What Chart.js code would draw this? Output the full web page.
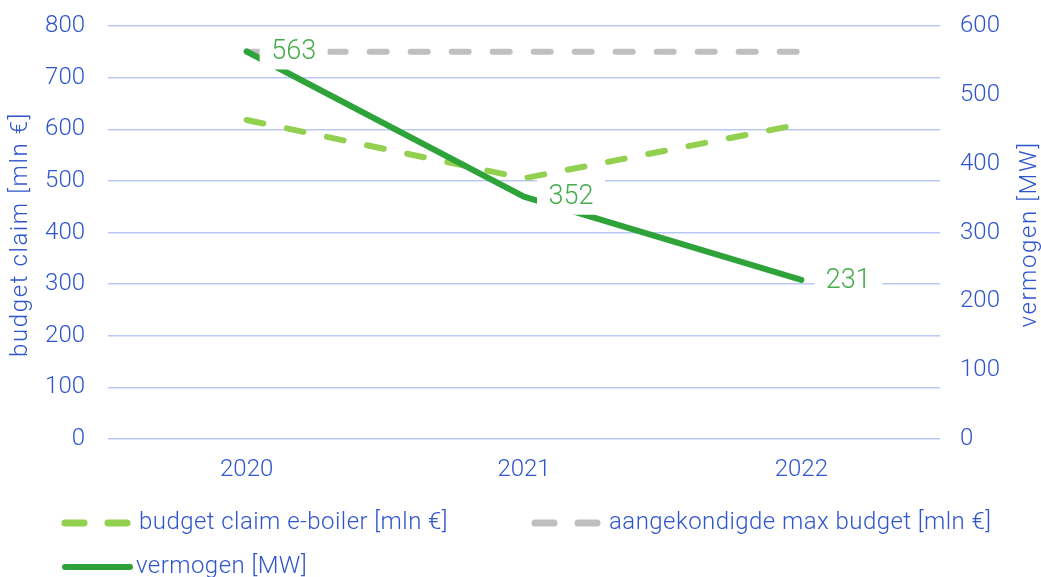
<!DOCTYPE html>
<html>
<head>
<meta charset="utf-8">
<script src="https://cdn.jsdelivr.net/npm/chart.js@4/dist/chart.umd.min.js"></script>
<style>
  html, body { margin: 0; padding: 0; background: #fff; }
  #wrap { width: 1041px; height: 577px; }
</style>
</head>
<body>
<div id="wrap"><canvas id="myChart" width="1041" height="577"></canvas></div>
<script>
// data
const years = ["2020", "2021", "2022"];
const budgetClaim = [618, 505, 610];     // mln €
const maxBudget = [750, 750, 750];        // mln €
const vermogen = [563, 352, 231];         // MW
const leftAxis = { min: 0, max: 800, step: 100, title: "budget claim [mln €]" };
const rightAxis = { min: 0, max: 600, step: 100, title: "vermogen [MW]" };

const blue = "#2f55cc";
const lightGreen = "#92d050";
const darkGreen = "#2ea33a";
const grey = "#bfbfbf";
const labelGreen = "#45ad4c";
const fontFamily = "Roboto";

// labels with white box right of the vermogen points
const valueLabels = {
    id: "valueLabels",
    afterDatasetsDraw(chart) {
        const ctx = chart.ctx;
        const meta = chart.getDatasetMeta(2);
        ctx.save();
        ctx.font = "300 27px " + fontFamily;
        ctx.textAlign = "center";
        ctx.textBaseline = "middle";
        meta.data.forEach((pt, i) => {
            const cx = pt.x + 47, cy = pt.y;
            ctx.fillStyle = "#fff";
            ctx.fillRect(cx - 34, cy - 18, 68, 36);
            ctx.fillStyle = labelGreen;
            ctx.fillText(String(vermogen[i]), cx, cy + 1);
        });
        ctx.restore();
    }
};

// axis titles, both read bottom to top
const axisTitles = {
    id: "axisTitles",
    afterDraw(chart) {
        const ctx = chart.ctx;
        const midY = (chart.chartArea.top + chart.chartArea.bottom) / 2 + 2;
        ctx.save();
        ctx.fillStyle = blue;
        ctx.font = "300 24px " + fontFamily;
        ctx.textAlign = "center";
        ctx.textBaseline = "middle";
        ctx.letterSpacing = "1.6px";
        [[21, leftAxis.title], [1030, rightAxis.title]].forEach(([x, t]) => {
            ctx.save();
            ctx.translate(x, midY);
            ctx.rotate(-Math.PI / 2);
            ctx.fillText(t, 0, 0);
            ctx.restore();
        });
        ctx.restore();
    }
};

// legend at the bottom, two items on first row
const bottomLegend = {
    id: "bottomLegend",
    afterDraw(chart) {
        const ctx = chart.ctx;
        const spots = [[62, 523], [532, 523], [62, 567]];
        ctx.save();
        chart.data.datasets.forEach((ds, i) => {
            const [x, y] = spots[i];
            ctx.beginPath();
            ctx.strokeStyle = ds.borderColor;
            ctx.lineWidth = ds.borderDash ? 7 : 6;
            ctx.lineCap = "round";
            ctx.setLineDash(ds.borderDash ? [19, 24] : []);
            ctx.moveTo(x + 3, y);
            ctx.lineTo(x + (ds.borderDash ? 66 : 68), y);
            ctx.stroke();
            ctx.setLineDash([]);
            ctx.fillStyle = blue;
            ctx.font = "300 24px " + fontFamily;
            ctx.letterSpacing = "0.45px";
            ctx.textBaseline = "middle";
            ctx.fillText(ds.label, x + (ds.borderDash ? 77 : 74), y);
        });
        ctx.restore();
    }
};

const tickFont = { family: fontFamily, size: 24, weight: 300 };
const noEdgePadding = s => { s.paddingTop = 0; s.paddingBottom = 0; };

new Chart(document.getElementById("myChart").getContext("2d"), {
    type: "line",
    data: {
        labels: years,
        datasets: [
            {
                label: "budget claim e-boiler [mln €]",
                data: budgetClaim,
                borderColor: lightGreen,
                borderWidth: 6,
                borderDash: [17, 24],
                borderCapStyle: "round",
                yAxisID: "y",
                order: 2
            },
            {
                label: "aangekondigde max budget [mln €]",
                data: maxBudget,
                borderColor: grey,
                borderWidth: 6,
                borderDash: [17, 24],
                borderCapStyle: "round",
                yAxisID: "y",
                order: 3
            },
            {
                label: "vermogen [MW]",
                data: vermogen,
                borderColor: darkGreen,
                borderWidth: 6,
                borderCapStyle: "round",
                yAxisID: "y1",
                order: 1
            }
        ]
    },
    options: {
        responsive: false,
        animation: false,
        layout: { padding: { top: 26, left: 0, right: 0, bottom: 0 } },
        elements: { point: { radius: 0 }, line: { tension: 0, fill: false } },
        plugins: { legend: { display: false }, tooltip: { enabled: false } },
        scales: {
            x: {
                offset: true,
                grid: { display: false, drawTicks: false },
                border: { display: false },
                ticks: { color: blue, font: tickFont, padding: 17 },
                afterFit: s => { s.height = 138; }
            },
            y: {
                position: "left",
                min: leftAxis.min, max: leftAxis.max,
                ticks: { stepSize: leftAxis.step, color: blue, font: tickFont, padding: 23 },
                grid: { color: "#b7c9f3", lineWidth: 1.5, drawTicks: false },
                border: { display: false },
                afterFit: s => { s.width = 108; noEdgePadding(s); }
            },
            y1: {
                position: "right",
                min: rightAxis.min, max: rightAxis.max,
                ticks: { stepSize: rightAxis.step, color: blue, font: tickFont, padding: 20 },
                grid: { display: false, drawTicks: false },
                border: { display: false },
                afterFit: s => { s.width = 101; noEdgePadding(s); }
            }
        }
    },
    plugins: [valueLabels, axisTitles, bottomLegend]
});
</script>
</body>
</html>
